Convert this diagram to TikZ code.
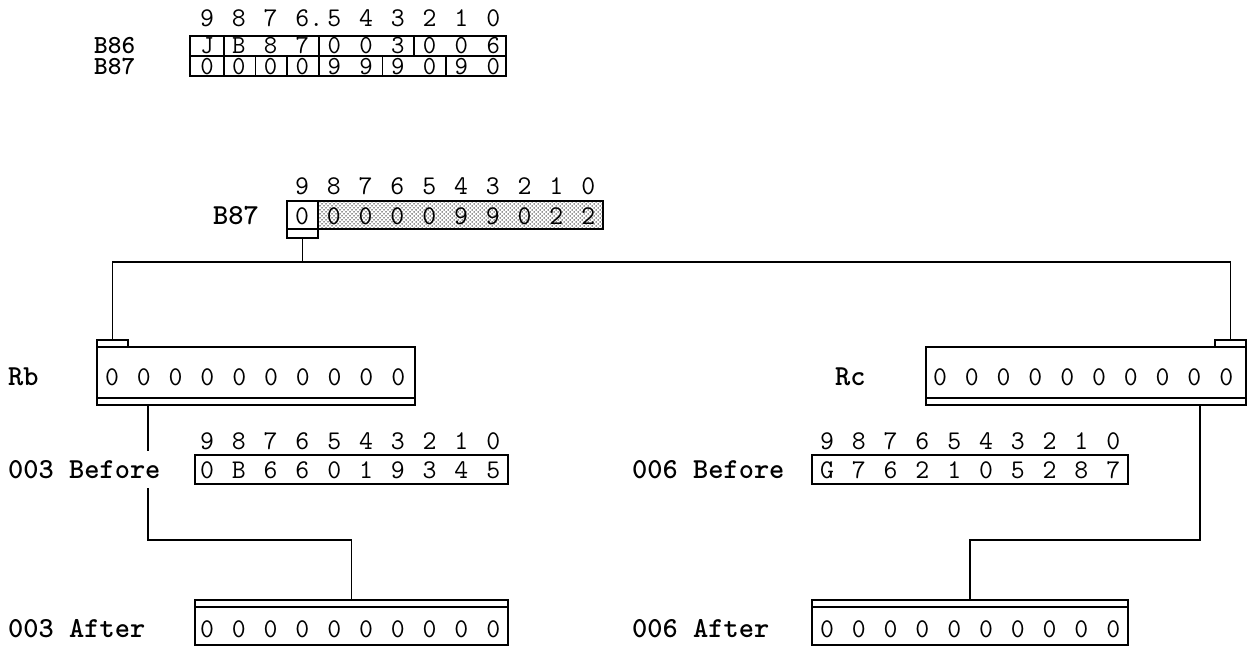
\documentclass[tikz,border=0pt]{standalone}
\usepackage{fontspec}
\usetikzlibrary{patterns}
\pgfdeclarepatternformonly{stipple}{\pgfqpoint{-1pt}{-1pt}}{\pgfqpoint{3pt}{3pt}}{\pgfqpoint{4pt}{4pt}}{%
  \pgfpathcircle{\pgfqpoint{0pt}{0pt}}{0.75pt}%
  \pgfpathcircle{\pgfqpoint{2pt}{2pt}}{0.75pt}%
  \pgfusepath{fill}}
\begin{document}
\begin{tikzpicture}[x=1pt,y=-1pt,
  box/.style={draw,line width=1.7pt,inner sep=0pt,outer sep=0pt,anchor=north west},
  tt/.style={font=\fontsize{27}{27}\selectfont\ttfamily,inner sep=0pt},
  small/.style={font=\fontsize{26}{26}\selectfont\ttfamily},
  dig/.style={tt,anchor=base},
  lbl/.style={inner sep=0pt,anchor=base west,font=\fontsize{29}{29}\selectfont\ttfamily\bfseries},
  wire/.style={line width=1.9pt},
  rule/.style={line width=1.7pt}]
\useasboundingbox (0,0) rectangle (1249,650);

% ---------- Section 1 ----------
\foreach \c [count=\i from 0] in {9,8,7,{6\rlap{.}},5,4,3,2,1,0}
  \node[dig,name=ha-\i] at ({207+31.8*\i},27) {\c};
\node[lbl,font=\fontsize{26}{26}\selectfont\ttfamily\bfseries] (lb86) at (94,54) {B86};
\node[lbl,font=\fontsize{26}{26}\selectfont\ttfamily\bfseries] (lb87a) at (94,75) {B87};
\node[box,minimum width=316pt,minimum height=20pt] (b86) at (190,36) {};
\node[box,minimum width=316pt,minimum height=20pt] (b87a) at (190,56) {};
\foreach \x in {224,319,414} \draw[rule] (\x,36) -- (\x,56);
\foreach \x in {224,255.5,287,319,382.5,446} \draw[rule] (\x,56) -- (\x,76);
\foreach \c [count=\i from 0] in {J,B,8,7,0,0,3,0,0,6}
  \node[dig,small,name=ra-\i] at ({207+31.8*\i},54) {\c};
\foreach \c [count=\i from 0] in {0,0,0,0,9,9,9,0,9,0}
  \node[dig,small,name=rb-\i] at ({207+31.8*\i},74.5) {\c};

% ---------- Section 2 ----------
\foreach \c [count=\i from 0] in {9,8,7,6,5,4,3,2,1,0}
  \node[dig,name=hb-\i] at ({302+31.8*\i},194) {\c};
\node[lbl] (lb87b) at (213,224) {B87};
\fill[pattern=stipple,pattern color=black!85] (318,201) rectangle (603,229);
\node[box,minimum width=316pt,minimum height=28pt] (b87b) at (287,201) {};
\draw[rule] (318,201) -- (318,229);
\node[box,minimum width=31pt,minimum height=9pt] (b87tab) at (287,229) {};
\foreach \c [count=\i from 0] in {0,0,0,0,0,9,9,0,2,2}
  \node[dig,name=rc-\i] at ({302+31.8*\i},224) {\c};

% ---------- Registers ----------
\node[lbl] (lrb) at (8,385) {Rb};
\node[box,minimum width=31pt,minimum height=7pt] (rbtab) at (97,340) {};
\node[box,minimum width=318pt,minimum height=58pt] (rb) at (97,347) {};
\draw[rule] (97,398) -- (415,398);
\foreach \i in {0,...,9}
  \node[dig,name=rbd-\i] at ({112+31.8*\i},385) {0};

\node[lbl] (lrc) at (835,385) {Rc};
\node[box,minimum width=31pt,minimum height=7pt] (rctab) at (1215,340) {};
\node[box,minimum width=320pt,minimum height=58pt] (rc) at (926,347) {};
\draw[rule] (926,398) -- (1246,398);
\foreach \i in {0,...,9}
  \node[dig,name=rcd-\i] at ({940+31.8*\i},385) {0};

% connectors top
\coordinate (jn) at (302.5,262);
\draw[wire] (b87tab.south) -- (jn);
\draw[wire] (rbtab.north) |- (jn) -| (rctab.north);

% ---------- Left lower ----------
\foreach \c [count=\i from 0] in {9,8,7,6,5,4,3,2,1,0}
  \node[dig,name=hc-\i] at ({207+31.8*\i},449) {\c};
\node[lbl] (lbefL) at (8,478) {003 Before};
\node[box,minimum width=313pt,minimum height=29pt] (befL) at (195,455) {};
\foreach \c [count=\i from 0] in {0,B,6,6,0,1,9,3,4,5}
  \node[dig,name=bl-\i] at ({207+31.8*\i},478) {\c};
\node[lbl] (laftL) at (8,637) {003 After};
\node[box,minimum width=313pt,minimum height=45pt] (aftL) at (195,600) {};
\draw[rule] (195,607) -- (508,607);
\foreach \i in {0,...,9}
  \node[dig,name=al-\i] at ({207+31.8*\i},637) {0};

\coordinate (g1) at (148,451);
\coordinate (g2) at (148,488);
\coordinate (g3) at (148,540);
\draw[wire] (rb.south -| g1) -- (g1);
\draw[wire] (g2) -- (g3) -| (aftL.north);

% ---------- Right lower ----------
\foreach \c [count=\i from 0] in {9,8,7,6,5,4,3,2,1,0}
  \node[dig,name=hd-\i] at ({827+31.8*\i},449) {\c};
\node[lbl] (lbefR) at (632,478) {006 Before};
\node[box,minimum width=316pt,minimum height=29pt] (befR) at (812,455) {};
\foreach \c [count=\i from 0] in {G,7,6,2,1,0,5,2,8,7}
  \node[dig,name=br-\i] at ({827+31.8*\i},478) {\c};
\node[lbl] (laftR) at (632,637) {006 After};
\node[box,minimum width=316pt,minimum height=45pt] (aftR) at (812,600) {};
\draw[rule] (812,607) -- (1128,607);
\foreach \i in {0,...,9}
  \node[dig,name=ar-\i] at ({827+31.8*\i},637) {0};

\coordinate (rv) at (1200,540);
\draw[wire] (rc.south -| rv) -- (rv) -| (aftR.north);
\end{tikzpicture}
\end{document}
